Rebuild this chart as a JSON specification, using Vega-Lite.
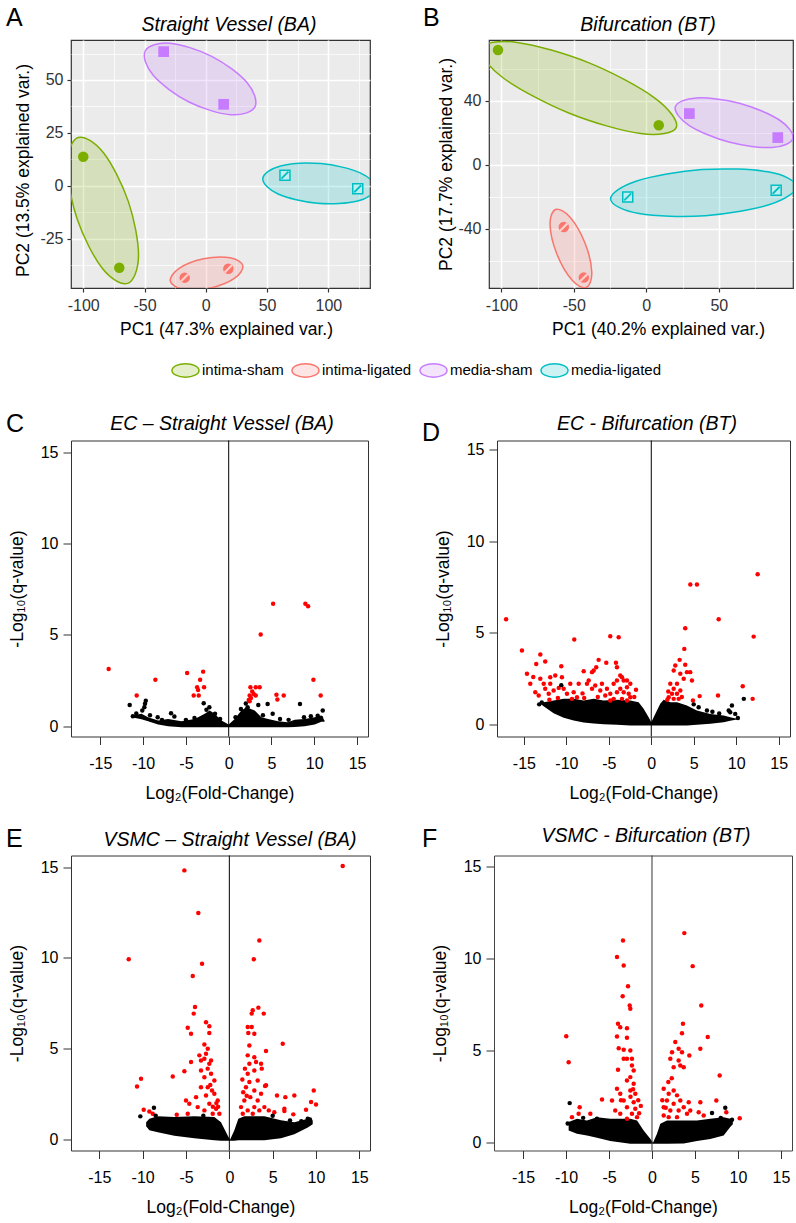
{
"$schema": "https://vega.github.io/schema/vega-lite/v6.json",
"padding": {"left": 5, "top": 5, "right": 0, "bottom": 0},
"background": "white",
"config": {
  "font": "Liberation Sans",
  "locale": {"number": {"decimal": ".", "thousands": ",", "grouping": [3], "currency": ["$", ""], "minus": "-"}},
  "axis": {"labelFont": "Liberation Sans", "titleFont": "Liberation Sans", "titleFontWeight": "normal", "labelFlush": false, "labelOverlap": false, "titleColor": "black", "labelColor": "black"},
  "legend": {"labelFont": "Liberation Sans"},
  "text": {"font": "Liberation Sans"}
},
"datasets": {
  "ellA": [
    {"grp":"intima-sham","i":0,"PC1":-63.8,"PC2":-46.1},{"grp":"intima-sham","i":1,"PC1":-84.5,"PC2":-39.0},{"grp":"intima-sham","i":2,"PC1":-104.9,"PC2":-15.8},{"grp":"intima-sham","i":3,"PC1":-113.1,"PC2":9.8},{"grp":"intima-sham","i":4,"PC1":-104.2,"PC2":22.8},{"grp":"intima-sham","i":5,"PC1":-83.5,"PC2":15.6},{"grp":"intima-sham","i":6,"PC1":-63.1,"PC2":-7.6},{"grp":"intima-sham","i":7,"PC1":-54.9,"PC2":-33.1},
    {"grp":"media-sham","i":0,"PC1":40.1,"PC2":37.3},{"grp":"media-sham","i":1,"PC1":20.2,"PC2":33.6},{"grp":"media-sham","i":2,"PC1":-14.1,"PC2":39.7},{"grp":"media-sham","i":3,"PC1":-42.9,"PC2":52.2},{"grp":"media-sham","i":4,"PC1":-49.4,"PC2":63.7},{"grp":"media-sham","i":5,"PC1":-29.6,"PC2":67.4},{"grp":"media-sham","i":6,"PC1":4.8,"PC2":61.2},{"grp":"media-sham","i":7,"PC1":33.6,"PC2":48.8},
    {"grp":"intima-ligated","i":0,"PC1":30.2,"PC2":-37.8},{"grp":"intima-ligated","i":1,"PC1":23.3,"PC2":-43.8},{"grp":"intima-ligated","i":2,"PC1":3.2,"PC2":-48.4},{"grp":"intima-ligated","i":3,"PC1":-18.4,"PC2":-48.9},{"grp":"intima-ligated","i":4,"PC1":-28.9,"PC2":-45.1},{"grp":"intima-ligated","i":5,"PC1":-22.0,"PC2":-39.1},{"grp":"intima-ligated","i":6,"PC1":-1.9,"PC2":-34.5},{"grp":"intima-ligated","i":7,"PC1":19.8,"PC2":-34.0},
    {"grp":"media-ligated","i":0,"PC1":138.4,"PC2":-1.2},{"grp":"media-ligated","i":1,"PC1":124.0,"PC2":-7.2},{"grp":"media-ligated","i":2,"PC1":91.1,"PC2":-8.3},{"grp":"media-ligated","i":3,"PC1":59.0,"PC2":-3.9},{"grp":"media-ligated","i":4,"PC1":46.5,"PC2":3.4},{"grp":"media-ligated","i":5,"PC1":61.0,"PC2":9.4},{"grp":"media-ligated","i":6,"PC1":93.9,"PC2":10.5},{"grp":"media-ligated","i":7,"PC1":126.0,"PC2":6.1}
  ],
  "ellB": [
    {"grp":"intima-sham","i":0,"PC1":20.7,"PC2":23.5},{"grp":"intima-sham","i":1,"PC1":-3.9,"PC2":19.6},{"grp":"intima-sham","i":2,"PC1":-53.5,"PC2":32.5},{"grp":"intima-sham","i":3,"PC1":-98.9,"PC2":54.5},{"grp":"intima-sham","i":4,"PC1":-113.7,"PC2":72.8},{"grp":"intima-sham","i":5,"PC1":-89.1,"PC2":76.6},{"grp":"intima-sham","i":6,"PC1":-39.5,"PC2":63.8},{"grp":"intima-sham","i":7,"PC1":5.9,"PC2":41.8},
    {"grp":"media-sham","i":0,"PC1":101.1,"PC2":16.6},{"grp":"media-sham","i":1,"PC1":86.7,"PC2":10.9},{"grp":"media-sham","i":2,"PC1":57.0,"PC2":14.3},{"grp":"media-sham","i":3,"PC1":29.4,"PC2":24.8},{"grp":"media-sham","i":4,"PC1":20.0,"PC2":36.3},{"grp":"media-sham","i":5,"PC1":34.5,"PC2":41.9},{"grp":"media-sham","i":6,"PC1":64.2,"PC2":38.6},{"grp":"media-sham","i":7,"PC1":91.8,"PC2":28.1},
    {"grp":"media-ligated","i":0,"PC1":103.6,"PC2":-13.3},{"grp":"media-ligated","i":1,"PC1":85.6,"PC2":-24.6},{"grp":"media-ligated","i":2,"PC1":40.6,"PC2":-31.7},{"grp":"media-ligated","i":3,"PC1":-5.0,"PC2":-30.4},{"grp":"media-ligated","i":4,"PC1":-24.6,"PC2":-21.4},{"grp":"media-ligated","i":5,"PC1":-6.6,"PC2":-10.0},{"grp":"media-ligated","i":6,"PC1":38.4,"PC2":-2.9},{"grp":"media-ligated","i":7,"PC1":84.0,"PC2":-4.3},
    {"grp":"intima-ligated","i":0,"PC1":-41.4,"PC2":-76.6},{"grp":"intima-ligated","i":1,"PC1":-51.3,"PC2":-71.9},{"grp":"intima-ligated","i":2,"PC1":-61.7,"PC2":-55.6},{"grp":"intima-ligated","i":3,"PC1":-66.4,"PC2":-37.4},{"grp":"intima-ligated","i":4,"PC1":-62.6,"PC2":-27.8},{"grp":"intima-ligated","i":5,"PC1":-52.7,"PC2":-32.5},{"grp":"intima-ligated","i":6,"PC1":-42.3,"PC2":-48.8},{"grp":"intima-ligated","i":7,"PC1":-37.6,"PC2":-67.0}
  ],
  "ptsA": [
    {"grp":"intima-sham","PC1":-100.0,"PC2":13.75},{"grp":"intima-sham","PC1":-70.6,"PC2":-38.7},
    {"grp":"media-sham","PC1":-34.4,"PC2":63.4},{"grp":"media-sham","PC1":14.6,"PC2":38.5},
    {"grp":"intima-ligated","PC1":-17.2,"PC2":-43.4},{"grp":"intima-ligated","PC1":18.4,"PC2":-39.2},
    {"grp":"media-ligated","PC1":64.6,"PC2":5.0},{"grp":"media-ligated","PC1":124.0,"PC2":-1.4}
  ],
  "ptsB": [
    {"grp":"intima-sham","PC1":-102.3,"PC2":71.9},{"grp":"intima-sham","PC1":8.6,"PC2":24.8},
    {"grp":"media-sham","PC1":29.7,"PC2":32.1},{"grp":"media-sham","PC1":90.7,"PC2":17.1},
    {"grp":"media-ligated","PC1":-12.8,"PC2":-20.0},{"grp":"media-ligated","PC1":89.6,"PC2":-15.8},
    {"grp":"intima-ligated","PC1":-56.9,"PC2":-38.8},{"grp":"intima-ligated","PC1":-43.1,"PC2":-70.4}
  ],
  "envC": [
    {"x":-11.2,"hi":0.6,"lo":0.48},{"x":-10.2,"hi":0.68,"lo":0.38},{"x":-9.42,"hi":0.5,"lo":0.28},{"x":-8.25,"hi":0.32,"lo":0.1},{"x":-7.08,"hi":0.4,"lo":0.0},{"x":-5.53,"hi":0.27,"lo":-0.05},{"x":-3.97,"hi":0.4,"lo":-0.05},{"x":-2.8,"hi":0.68,"lo":-0.05},{"x":-2.22,"hi":0.86,"lo":-0.05},{"x":-1.64,"hi":0.68,"lo":-0.05},{"x":-0.85,"hi":0.31,"lo":-0.05},{"x":0,"hi":0.09,"lo":-0.05},{"x":0.7,"hi":0.4,"lo":-0.05},{"x":1.48,"hi":0.86,"lo":-0.05},{"x":2.07,"hi":1.04,"lo":-0.05},{"x":3.04,"hi":0.86,"lo":-0.05},{"x":3.82,"hi":0.49,"lo":-0.05},{"x":4.6,"hi":0.4,"lo":-0.05},{"x":5.77,"hi":0.27,"lo":-0.05},{"x":6.94,"hi":0.22,"lo":-0.05},{"x":7.71,"hi":0.35,"lo":-0.04},{"x":8.88,"hi":0.4,"lo":0.0},{"x":10.05,"hi":0.49,"lo":0.1},{"x":10.83,"hi":0.59,"lo":0.25},{"x":11.2,"hi":0.31,"lo":0.25}
  ],
  "ptsC": [
    {"x":5.19,"y":6.7,"s":"up"},{"x":8.96,"y":6.7,"s":"up"},{"x":9.28,"y":6.57,"s":"up"},{"x":3.74,"y":5.02,"s":"up"},{"x":-14.03,"y":3.14,"s":"up"},{"x":-4.86,"y":2.92,"s":"up"},{"x":-2.99,"y":2.99,"s":"up"},{"x":-8.57,"y":2.54,"s":"up"},{"x":-3.34,"y":2.54,"s":"up"},{"x":-3.69,"y":2.13,"s":"up"},{"x":-3.58,"y":1.99,"s":"up"},{"x":-2.88,"y":2.13,"s":"up"},{"x":-4.09,"y":1.68,"s":"up"},{"x":-3.5,"y":1.68,"s":"up"},{"x":-10.75,"y":1.68,"s":"up"},{"x":2.54,"y":2.13,"s":"up"},{"x":3.16,"y":2.13,"s":"up"},{"x":3.62,"y":2.13,"s":"up"},{"x":2.45,"y":1.68,"s":"up"},{"x":2.92,"y":1.77,"s":"up"},{"x":3.16,"y":1.68,"s":"up"},{"x":2.34,"y":1.44,"s":"up"},{"x":2.45,"y":1.37,"s":"up"},{"x":5.58,"y":1.72,"s":"up"},{"x":5.69,"y":1.46,"s":"up"},{"x":6.43,"y":1.68,"s":"up"},{"x":9.9,"y":2.54,"s":"up"},{"x":10.75,"y":1.68,"s":"up"},{"x":2.75,"y":1.9,"s":"up"},{"x":2.6,"y":1.55,"s":"up"},
    {"x":-11.57,"y":1.17,"s":"ns"},{"x":-9.78,"y":1.23,"s":"ns"},{"x":-9.86,"y":1.04,"s":"ns"},{"x":-10.1,"y":0.86,"s":"ns"},{"x":-9.69,"y":1.4,"s":"ns"},{"x":-2.92,"y":1.26,"s":"ns"},{"x":-2.26,"y":1.04,"s":"ns"},{"x":-2.6,"y":0.9,"s":"ns"},{"x":3.46,"y":1.17,"s":"ns"},{"x":4.55,"y":1.22,"s":"ns"},{"x":8.33,"y":1.22,"s":"ns"},{"x":10.99,"y":0.86,"s":"ns"},{"x":5.14,"y":0.68,"s":"ns"},{"x":-6.74,"y":0.71,"s":"ns"},{"x":-6.35,"y":0.53,"s":"ns"},{"x":-8.3,"y":0.49,"s":"ns"},{"x":10.8,"y":0.45,"s":"ns"},{"x":10.4,"y":0.58,"s":"ns"},{"x":1.43,"y":0.95,"s":"ns"},{"x":2.21,"y":1.04,"s":"ns"},{"x":2.0,"y":1.25,"s":"ns"},{"x":-1.6,"y":0.68,"s":"ns"},{"x":-10.8,"y":0.7,"s":"ns"},{"x":-11.2,"y":0.55,"s":"ns"},{"x":7.0,"y":0.35,"s":"ns"},{"x":8.8,"y":0.5,"s":"ns"},{"x":9.6,"y":0.55,"s":"ns"},{"x":-5.0,"y":0.35,"s":"ns"},{"x":-4.0,"y":0.45,"s":"ns"},{"x":-7.8,"y":0.35,"s":"ns"},{"x":4.0,"y":0.6,"s":"ns"},{"x":6.0,"y":0.4,"s":"ns"},{"x":-1.0,"y":0.4,"s":"ns"},{"x":0.8,"y":0.5,"s":"ns"},{"x":-9.2,"y":0.6,"s":"ns"}
  ],
  "envD": [
    {"x":-12.9,"hi":1.18,"lo":1.08},{"x":-12.68,"hi":1.22,"lo":1.0},{"x":-11.5,"hi":1.31,"lo":0.62},{"x":-10.32,"hi":1.4,"lo":0.37},{"x":-9.14,"hi":1.4,"lo":0.22},{"x":-7.96,"hi":1.31,"lo":0.11},{"x":-6.78,"hi":1.4,"lo":0.05},{"x":-5.61,"hi":1.31,"lo":0.02},{"x":-4.04,"hi":1.35,"lo":-0.02},{"x":-2.47,"hi":1.31,"lo":-0.05},{"x":-1.49,"hi":1.22,"lo":-0.05},{"x":-0.9,"hi":0.86,"lo":-0.05},{"x":-0.31,"hi":0.4,"lo":-0.05},{"x":0,"hi":0.13,"lo":-0.05},{"x":0.47,"hi":0.58,"lo":-0.05},{"x":1.06,"hi":1.13,"lo":-0.05},{"x":1.46,"hi":1.35,"lo":-0.05},{"x":2.24,"hi":1.22,"lo":-0.05},{"x":3.03,"hi":1.22,"lo":-0.05},{"x":4.2,"hi":1.04,"lo":-0.05},{"x":5.38,"hi":0.76,"lo":-0.02},{"x":6.95,"hi":0.58,"lo":0.04},{"x":8.53,"hi":0.49,"lo":0.13},{"x":9.3,"hi":0.4,"lo":0.2},{"x":10.09,"hi":0.31,"lo":0.28}
  ],
  "ptsD": [
    {"x":-17.1,"y":5.75,"s":"up"},{"x":4.6,"y":7.65,"s":"up"},{"x":5.38,"y":7.65,"s":"up"},{"x":12.53,"y":8.21,"s":"up"},{"x":7.94,"y":5.75,"s":"up"},{"x":4.0,"y":5.26,"s":"up"},{"x":-15.23,"y":4.04,"s":"up"},{"x":-13.07,"y":3.82,"s":"up"},{"x":-9.07,"y":4.64,"s":"up"},{"x":-4.83,"y":4.82,"s":"up"},{"x":-3.84,"y":4.77,"s":"up"},{"x":12.06,"y":4.8,"s":"up"},{"x":3.89,"y":4.13,"s":"up"},{"x":3.34,"y":3.53,"s":"up"},{"x":4.0,"y":3.26,"s":"up"},{"x":-13.55,"y":3.31,"s":"up"},{"x":-12.49,"y":3.44,"s":"up"},{"x":-10.6,"y":3.18,"s":"up"},{"x":-6.2,"y":3.53,"s":"up"},{"x":-5.3,"y":3.37,"s":"up"},{"x":-4.16,"y":3.37,"s":"up"},{"x":-4.04,"y":3.13,"s":"up"},{"x":-6.48,"y":3.13,"s":"up"},{"x":-6.78,"y":2.95,"s":"up"},{"x":-7.96,"y":2.91,"s":"up"},{"x":-6.98,"y":2.86,"s":"up"},{"x":-3.65,"y":2.68,"s":"up"},{"x":-3.45,"y":2.58,"s":"up"},{"x":-14.64,"y":2.77,"s":"up"},{"x":-13.07,"y":2.5,"s":"up"},{"x":-11.9,"y":2.58,"s":"up"},{"x":-11.31,"y":2.68,"s":"up"},{"x":-10.52,"y":2.58,"s":"up"},{"x":-9.54,"y":2.22,"s":"up"},{"x":-12.67,"y":2.22,"s":"up"},{"x":-11.9,"y":2.22,"s":"up"},{"x":-12.49,"y":1.95,"s":"up"},{"x":-11.5,"y":1.86,"s":"up"},{"x":-12.08,"y":1.68,"s":"up"},{"x":-14.25,"y":2.22,"s":"up"},{"x":-13.66,"y":1.76,"s":"up"},{"x":-13.26,"y":1.58,"s":"up"},{"x":-10.32,"y":1.95,"s":"up"},{"x":-9.93,"y":1.68,"s":"up"},{"x":-9.14,"y":1.76,"s":"up"},{"x":-8.55,"y":2.22,"s":"up"},{"x":-8.75,"y":1.49,"s":"up"},{"x":-9.34,"y":1.4,"s":"up"},{"x":-7.37,"y":2.4,"s":"up"},{"x":-7.57,"y":2.22,"s":"up"},{"x":-6.98,"y":1.95,"s":"up"},{"x":-6.6,"y":2.13,"s":"up"},{"x":-5.81,"y":2.22,"s":"up"},{"x":-6.01,"y":1.86,"s":"up"},{"x":-5.22,"y":1.95,"s":"up"},{"x":-4.83,"y":1.68,"s":"up"},{"x":-5.42,"y":1.58,"s":"up"},{"x":-4.43,"y":2.22,"s":"up"},{"x":-4.04,"y":2.4,"s":"up"},{"x":-3.25,"y":2.4,"s":"up"},{"x":-2.86,"y":2.4,"s":"up"},{"x":-2.47,"y":2.22,"s":"up"},{"x":-2.86,"y":2.04,"s":"up"},{"x":-3.65,"y":1.95,"s":"up"},{"x":-3.25,"y":1.76,"s":"up"},{"x":-2.66,"y":1.68,"s":"up"},{"x":-4.04,"y":1.76,"s":"up"},{"x":-2.47,"y":1.49,"s":"up"},{"x":-3.45,"y":1.4,"s":"up"},{"x":-4.43,"y":1.4,"s":"up"},{"x":-4.83,"y":1.31,"s":"up"},{"x":-2.86,"y":1.31,"s":"up"},{"x":2.64,"y":2.95,"s":"up"},{"x":2.83,"y":3.22,"s":"up"},{"x":3.42,"y":2.77,"s":"up"},{"x":3.82,"y":2.5,"s":"up"},{"x":4.2,"y":2.86,"s":"up"},{"x":4.59,"y":2.86,"s":"up"},{"x":4.79,"y":2.4,"s":"up"},{"x":3.03,"y":2.22,"s":"up"},{"x":2.24,"y":2.22,"s":"up"},{"x":2.64,"y":1.95,"s":"up"},{"x":2.44,"y":1.68,"s":"up"},{"x":3.03,"y":1.68,"s":"up"},{"x":3.42,"y":1.86,"s":"up"},{"x":2.05,"y":1.49,"s":"up"},{"x":2.64,"y":1.4,"s":"up"},{"x":3.23,"y":1.4,"s":"up"},{"x":4.91,"y":1.31,"s":"up"},{"x":5.7,"y":1.55,"s":"up"},{"x":7.86,"y":1.58,"s":"up"},{"x":10.77,"y":2.09,"s":"up"},{"x":11.94,"y":1.4,"s":"up"},{"x":-7.9,"y":1.45,"s":"up"},{"x":-6.3,"y":1.5,"s":"up"},{"x":-11.0,"y":1.45,"s":"up"},{"x":-12.0,"y":1.35,"s":"up"},{"x":-2.0,"y":1.5,"s":"up"},{"x":-1.8,"y":1.9,"s":"up"},{"x":2.0,"y":1.8,"s":"up"},{"x":1.9,"y":1.35,"s":"up"},{"x":3.6,"y":1.5,"s":"up"},{"x":-13.9,"y":2.6,"s":"up"},{"x":-10.9,"y":2.0,"s":"up"},{"x":-8.1,"y":1.7,"s":"up"},
    {"x":-10.6,"y":2.15,"s":"ns"},{"x":10.9,"y":1.4,"s":"ns"},{"x":5.58,"y":0.94,"s":"ns"},{"x":6.56,"y":0.76,"s":"ns"},{"x":9.12,"y":0.76,"s":"ns"},{"x":9.5,"y":1.04,"s":"ns"},{"x":9.89,"y":0.58,"s":"ns"},{"x":9.3,"y":0.67,"s":"ns"},{"x":5.0,"y":1.1,"s":"ns"},{"x":-12.9,"y":1.2,"s":"ns"},{"x":-13.2,"y":1.1,"s":"ns"},{"x":8.0,"y":0.6,"s":"ns"},{"x":7.2,"y":0.7,"s":"ns"},{"x":10.2,"y":0.35,"s":"ns"}
  ],
  "envE": [
    {"x":-9.6,"hi":0.95,"lo":0.72},{"x":-9.23,"hi":1.14,"lo":0.5},{"x":-8.26,"hi":1.27,"lo":0.39},{"x":-6.35,"hi":1.23,"lo":0.2},{"x":-4.04,"hi":1.27,"lo":0.07},{"x":-1.73,"hi":1.23,"lo":-0.04},{"x":-0.96,"hi":0.95,"lo":-0.07},{"x":-0.19,"hi":0.22,"lo":-0.07},{"x":0.08,"hi":-0.02,"lo":-0.07},{"x":0.58,"hi":0.5,"lo":-0.07},{"x":1.04,"hi":1.14,"lo":-0.05},{"x":1.73,"hi":1.27,"lo":-0.04},{"x":4.04,"hi":1.27,"lo":-0.04},{"x":5.96,"hi":1.05,"lo":0.07},{"x":7.5,"hi":0.95,"lo":0.29},{"x":9.05,"hi":1.14,"lo":0.66},{"x":9.62,"hi":1.05,"lo":0.84}
  ],
  "ptsE": [
    {"x":-5.19,"y":14.82,"s":"up"},{"x":13.08,"y":15.06,"s":"up"},{"x":-3.58,"y":12.47,"s":"up"},{"x":-11.61,"y":9.92,"s":"up"},{"x":-3.15,"y":9.68,"s":"up"},{"x":-4.22,"y":9.0,"s":"up"},{"x":3.46,"y":10.96,"s":"up"},{"x":2.82,"y":9.92,"s":"up"},{"x":-3.96,"y":7.29,"s":"up"},{"x":-4.11,"y":6.93,"s":"up"},{"x":3.35,"y":7.26,"s":"up"},{"x":2.7,"y":7.11,"s":"up"},{"x":2.58,"y":6.93,"s":"up"},{"x":3.97,"y":6.93,"s":"up"},{"x":-4.8,"y":6.15,"s":"up"},{"x":-4.42,"y":5.82,"s":"up"},{"x":-2.69,"y":6.46,"s":"up"},{"x":-2.31,"y":6.23,"s":"up"},{"x":-2.31,"y":5.86,"s":"up"},{"x":2.12,"y":6.19,"s":"up"},{"x":2.58,"y":6.19,"s":"up"},{"x":2.19,"y":5.86,"s":"up"},{"x":2.88,"y":5.82,"s":"up"},{"x":6.16,"y":5.27,"s":"up"},{"x":2.31,"y":5.18,"s":"up"},{"x":-2.88,"y":5.23,"s":"up"},{"x":-2.49,"y":5.0,"s":"up"},{"x":-2.69,"y":4.72,"s":"up"},{"x":-3.46,"y":4.63,"s":"up"},{"x":-3.27,"y":4.35,"s":"up"},{"x":-2.88,"y":4.45,"s":"up"},{"x":-2.31,"y":4.17,"s":"up"},{"x":-2.11,"y":4.35,"s":"up"},{"x":-4.42,"y":4.26,"s":"up"},{"x":-5.19,"y":3.76,"s":"up"},{"x":-6.53,"y":3.47,"s":"up"},{"x":-10.19,"y":3.34,"s":"up"},{"x":-10.65,"y":2.92,"s":"up"},{"x":-9.88,"y":1.64,"s":"up"},{"x":-9.23,"y":1.54,"s":"up"},{"x":-8.84,"y":1.42,"s":"up"},{"x":-5.0,"y":2.15,"s":"up"},{"x":-4.62,"y":1.97,"s":"up"},{"x":-4.8,"y":1.42,"s":"up"},{"x":-3.84,"y":2.33,"s":"up"},{"x":-3.65,"y":1.78,"s":"up"},{"x":-6.07,"y":1.36,"s":"up"},{"x":-3.27,"y":3.8,"s":"up"},{"x":-2.88,"y":3.43,"s":"up"},{"x":-2.11,"y":3.62,"s":"up"},{"x":-1.73,"y":3.25,"s":"up"},{"x":-2.49,"y":2.88,"s":"up"},{"x":-3.27,"y":2.88,"s":"up"},{"x":-1.73,"y":2.52,"s":"up"},{"x":-2.69,"y":2.42,"s":"up"},{"x":-1.34,"y":2.15,"s":"up"},{"x":-2.31,"y":1.97,"s":"up"},{"x":-1.53,"y":1.69,"s":"up"},{"x":-2.88,"y":1.6,"s":"up"},{"x":-1.92,"y":1.42,"s":"up"},{"x":-1.15,"y":1.42,"s":"up"},{"x":2.12,"y":4.63,"s":"up"},{"x":2.88,"y":4.53,"s":"up"},{"x":2.31,"y":4.17,"s":"up"},{"x":3.08,"y":4.26,"s":"up"},{"x":2.12,"y":3.62,"s":"up"},{"x":2.88,"y":3.8,"s":"up"},{"x":3.27,"y":3.25,"s":"up"},{"x":2.31,"y":3.16,"s":"up"},{"x":1.92,"y":2.88,"s":"up"},{"x":2.88,"y":2.7,"s":"up"},{"x":3.66,"y":4.17,"s":"up"},{"x":3.74,"y":3.9,"s":"up"},{"x":4.23,"y":2.98,"s":"up"},{"x":2.42,"y":2.33,"s":"up"},{"x":3.27,"y":2.15,"s":"up"},{"x":1.73,"y":2.15,"s":"up"},{"x":1.35,"y":1.78,"s":"up"},{"x":2.12,"y":1.6,"s":"up"},{"x":2.88,"y":1.78,"s":"up"},{"x":3.46,"y":1.6,"s":"up"},{"x":1.55,"y":1.42,"s":"up"},{"x":2.7,"y":1.42,"s":"up"},{"x":4.04,"y":1.78,"s":"up"},{"x":4.23,"y":4.87,"s":"up"},{"x":4.12,"y":2.94,"s":"up"},{"x":3.66,"y":2.52,"s":"up"},{"x":5.5,"y":2.42,"s":"up"},{"x":6.46,"y":2.33,"s":"up"},{"x":7.5,"y":2.42,"s":"up"},{"x":4.55,"y":1.6,"s":"up"},{"x":5.19,"y":1.5,"s":"up"},{"x":6.35,"y":1.69,"s":"up"},{"x":6.35,"y":1.56,"s":"up"},{"x":7.38,"y":1.38,"s":"up"},{"x":8.85,"y":1.64,"s":"up"},{"x":9.74,"y":2.7,"s":"up"},{"x":9.43,"y":2.06,"s":"up"},{"x":10.0,"y":1.93,"s":"up"},{"x":-1.5,"y":2.0,"s":"up"},{"x":-2.0,"y":2.7,"s":"up"},{"x":-1.9,"y":1.8,"s":"up"},{"x":1.6,"y":2.6,"s":"up"},{"x":2.0,"y":2.4,"s":"up"},{"x":1.5,"y":3.3,"s":"up"},{"x":-1.3,"y":1.8,"s":"up"},{"x":-2.2,"y":3.0,"s":"up"},{"x":1.8,"y":3.9,"s":"up"},{"x":-2.5,"y":3.9,"s":"up"},
    {"x":-10.27,"y":1.27,"s":"ns"},{"x":-8.7,"y":1.75,"s":"ns"},{"x":9.05,"y":1.14,"s":"ns"},{"x":8.3,"y":1.0,"s":"ns"},{"x":9.3,"y":1.1,"s":"ns"},{"x":-8.5,"y":1.3,"s":"ns"},{"x":5.0,"y":1.3,"s":"ns"},{"x":-3.0,"y":1.3,"s":"ns"},{"x":7.0,"y":1.05,"s":"ns"}
  ],
  "envF": [
    {"x":-9.69,"hi":1.12,"lo":0.67},{"x":-8.72,"hi":1.3,"lo":0.49},{"x":-7.56,"hi":1.21,"lo":0.4},{"x":-6.4,"hi":1.39,"lo":0.27},{"x":-4.85,"hi":1.3,"lo":0.1},{"x":-2.52,"hi":1.3,"lo":-0.06},{"x":-1.74,"hi":1.21,"lo":-0.06},{"x":-0.97,"hi":0.67,"lo":-0.06},{"x":-0.2,"hi":0.22,"lo":-0.06},{"x":0.12,"hi":0.0,"lo":-0.06},{"x":0.58,"hi":0.49,"lo":-0.06},{"x":0.97,"hi":1.03,"lo":-0.06},{"x":1.74,"hi":1.21,"lo":-0.06},{"x":3.69,"hi":1.21,"lo":-0.04},{"x":5.23,"hi":1.21,"lo":0.09},{"x":6.78,"hi":1.3,"lo":0.2},{"x":8.33,"hi":1.39,"lo":0.4},{"x":9.1,"hi":1.3,"lo":0.85},{"x":9.4,"hi":1.15,"lo":1.0}
  ],
  "ptsF": [
    {"x":3.76,"y":11.37,"s":"up"},{"x":-3.37,"y":10.97,"s":"up"},{"x":-4.07,"y":10.07,"s":"up"},{"x":-3.29,"y":9.61,"s":"up"},{"x":4.73,"y":9.58,"s":"up"},{"x":-2.79,"y":8.49,"s":"up"},{"x":-3.41,"y":7.95,"s":"up"},{"x":-2.59,"y":7.45,"s":"up"},{"x":-2.52,"y":7.27,"s":"up"},{"x":5.73,"y":7.45,"s":"up"},{"x":-3.95,"y":6.45,"s":"up"},{"x":-3.69,"y":6.27,"s":"up"},{"x":-2.91,"y":6.21,"s":"up"},{"x":3.6,"y":6.45,"s":"up"},{"x":3.49,"y":5.94,"s":"up"},{"x":-4.07,"y":5.76,"s":"up"},{"x":-2.91,"y":5.69,"s":"up"},{"x":6.48,"y":5.73,"s":"up"},{"x":-9.97,"y":5.78,"s":"up"},{"x":-9.69,"y":4.37,"s":"up"},{"x":-3.87,"y":5.13,"s":"up"},{"x":-3.29,"y":5.04,"s":"up"},{"x":-2.52,"y":5.0,"s":"up"},{"x":-2.91,"y":4.56,"s":"up"},{"x":-2.33,"y":4.56,"s":"up"},{"x":-3.29,"y":4.56,"s":"up"},{"x":5.62,"y":5.1,"s":"up"},{"x":4.34,"y":4.73,"s":"up"},{"x":2.71,"y":5.46,"s":"up"},{"x":3.1,"y":5.1,"s":"up"},{"x":3.49,"y":4.91,"s":"up"},{"x":2.33,"y":4.91,"s":"up"},{"x":2.13,"y":4.56,"s":"up"},{"x":3.1,"y":4.46,"s":"up"},{"x":2.52,"y":4.1,"s":"up"},{"x":3.29,"y":4.19,"s":"up"},{"x":3.69,"y":4.1,"s":"up"},{"x":-3.95,"y":3.96,"s":"up"},{"x":-2.33,"y":4.19,"s":"up"},{"x":-2.13,"y":3.92,"s":"up"},{"x":-2.52,"y":3.56,"s":"up"},{"x":-2.13,"y":3.2,"s":"up"},{"x":-2.91,"y":3.38,"s":"up"},{"x":7.87,"y":3.65,"s":"up"},{"x":-4.07,"y":2.93,"s":"up"},{"x":-3.69,"y":2.66,"s":"up"},{"x":-2.52,"y":2.84,"s":"up"},{"x":-1.94,"y":2.66,"s":"up"},{"x":-3.29,"y":2.29,"s":"up"},{"x":-2.13,"y":2.2,"s":"up"},{"x":-2.91,"y":1.93,"s":"up"},{"x":-1.94,"y":1.84,"s":"up"},{"x":-2.33,"y":1.57,"s":"up"},{"x":-1.74,"y":1.39,"s":"up"},{"x":-3.69,"y":1.57,"s":"up"},{"x":-2.91,"y":1.3,"s":"up"},{"x":-4.27,"y":1.75,"s":"up"},{"x":-5.81,"y":2.35,"s":"up"},{"x":-4.65,"y":2.29,"s":"up"},{"x":-8.41,"y":1.93,"s":"up"},{"x":-8.53,"y":1.57,"s":"up"},{"x":-7.17,"y":1.57,"s":"up"},{"x":-9.3,"y":1.39,"s":"up"},{"x":1.36,"y":2.93,"s":"up"},{"x":1.94,"y":2.66,"s":"up"},{"x":2.52,"y":2.84,"s":"up"},{"x":2.91,"y":2.57,"s":"up"},{"x":1.74,"y":2.29,"s":"up"},{"x":2.52,"y":2.12,"s":"up"},{"x":3.29,"y":2.29,"s":"up"},{"x":1.36,"y":1.93,"s":"up"},{"x":2.13,"y":1.75,"s":"up"},{"x":3.1,"y":1.75,"s":"up"},{"x":3.69,"y":1.93,"s":"up"},{"x":1.36,"y":1.48,"s":"up"},{"x":1.94,"y":1.39,"s":"up"},{"x":2.91,"y":1.39,"s":"up"},{"x":4.07,"y":1.57,"s":"up"},{"x":4.27,"y":2.2,"s":"up"},{"x":4.45,"y":1.75,"s":"up"},{"x":5.43,"y":1.66,"s":"up"},{"x":6.01,"y":1.48,"s":"up"},{"x":5.62,"y":2.2,"s":"up"},{"x":7.48,"y":2.29,"s":"up"},{"x":8.64,"y":1.66,"s":"up"},{"x":10.2,"y":1.33,"s":"up"},{"x":-1.5,"y":1.6,"s":"up"},{"x":-1.3,"y":2.0,"s":"up"},{"x":-2.5,"y":2.5,"s":"up"},{"x":1.2,"y":2.3,"s":"up"},{"x":1.6,"y":1.9,"s":"up"},{"x":2.3,"y":3.5,"s":"up"},{"x":1.9,"y":3.3,"s":"up"},{"x":-2.2,"y":2.9,"s":"up"},{"x":-1.6,"y":2.3,"s":"up"},{"x":-3.6,"y":2.3,"s":"up"},
    {"x":-9.57,"y":2.15,"s":"ns"},{"x":6.98,"y":1.61,"s":"ns"},{"x":8.52,"y":1.9,"s":"ns"},{"x":-6.4,"y":1.3,"s":"ns"},{"x":9.3,"y":1.25,"s":"ns"},{"x":-9.8,"y":1.05,"s":"ns"},{"x":-8.0,"y":1.35,"s":"ns"},{"x":8.0,"y":1.35,"s":"ns"},{"x":7.5,"y":1.15,"s":"ns"}
  ]
},
"spacing": 29.5,
"vconcat": [
  {
    "hconcat": [
      {
        "width": 299, "height": 248,
        "view": {"fill": "#EBEBEB", "stroke": "#333333", "strokeWidth": 1.2},
        "layer": [
          {
            "data": {"name": "ellA"},
            "mark": {"type": "line", "interpolate": "cardinal-closed", "clip": true, "strokeWidth": 1.5, "fillOpacity": 0.2},
            "encoding": {
              "x": {"field": "PC1", "type": "quantitative", "scale": {"domain": [-110, 134], "nice": false, "zero": false},
                "axis": {"orient": "bottom", "title": "PC1 (47.3% explained var.)", "values": [-100,-50,0,50,100], "grid": true, "gridColor": "white", "gridWidth": 1.6, "domain": false, "tickSize": 4, "tickColor": "#333333", "tickWidth": 1.2, "labelFontSize": 16, "labelColor": "#333333", "labelPadding": 5, "titleFontSize": 17.5, "titlePadding": 7, "titleX": 155}},
              "y": {"field": "PC2", "type": "quantitative", "scale": {"domain": [-48.3, 68.9], "nice": false, "zero": false},
                "axis": {"orient": "left", "title": "PC2 (13.5% explained var.)", "values": [-25,0,25,50], "grid": true, "gridColor": "white", "gridWidth": 1.6, "domain": false, "tickSize": 4, "tickColor": "#333333", "tickWidth": 1.2, "labelFontSize": 16, "labelColor": "#333333", "labelPadding": 4, "titleFontSize": 17.5, "titlePadding": 7, "titleY": 130}},
              "order": {"field": "i", "type": "quantitative"},
              "stroke": {"field": "grp", "type": "nominal", "scale": {"domain": ["intima-sham","intima-ligated","media-sham","media-ligated"], "range": ["#7CAE00","#F8766D","#C77CFF","#00BFC4"]},
                "legend": {"orient": "none", "legendX": 100, "legendY": 315.5, "direction": "horizontal", "columns": 4, "title": null, "symbolType": "M -1,0 A 1,0.5 0 1,1 1,0 A 1,0.5 0 1,1 -1,0 Z", "symbolSize": 729, "symbolStrokeWidth": 1.5, "labelFontSize": 15, "labelColor": "black", "labelOffset": 2, "columnPadding": 5, "padding": 0, "encode": {"symbols": {"update": {"fillOpacity": {"value": 0.2}}}}}},
              "fill": {"field": "grp", "type": "nominal", "scale": {"domain": ["intima-sham","intima-ligated","media-sham","media-ligated"], "range": ["#7CAE00","#F8766D","#C77CFF","#00BFC4"]},
                "legend": {"orient": "none", "legendX": 100, "legendY": 315.5, "direction": "horizontal", "columns": 4, "title": null, "symbolType": "M -1,0 A 1,0.5 0 1,1 1,0 A 1,0.5 0 1,1 -1,0 Z", "symbolSize": 729, "symbolStrokeWidth": 1.5, "labelFontSize": 15, "labelColor": "black", "labelOffset": 2, "columnPadding": 5, "padding": 0, "encode": {"symbols": {"update": {"fillOpacity": {"value": 0.2}}}}}}
            }
          },
          {
            "data": {"name": "ptsA"},
            "transform": [{"filter": {"field": "grp", "oneOf": ["intima-sham", "intima-ligated"]}}],
            "mark": {"type": "point", "shape": "circle", "filled": true, "size": 110, "opacity": 1},
            "encoding": {
              "x": {"field": "PC1", "type": "quantitative", "axis": {"orient": "top", "values": [-75,-25,25,75,125], "grid": true, "gridColor": "white", "gridWidth": 0.7, "labels": false, "ticks": false, "domain": false, "title": null}},
              "y": {"field": "PC2", "type": "quantitative", "axis": {"orient": "right", "values": [-37.5,-12.5,12.5,37.5,62.5], "grid": true, "gridColor": "white", "gridWidth": 0.7, "labels": false, "ticks": false, "domain": false, "title": null}},
              "fill": {"field": "grp", "type": "nominal", "legend": null}}
          },
          {
            "data": {"name": "ptsA"},
            "transform": [{"filter": {"field": "grp", "equal": "media-sham"}}],
            "mark": {"type": "point", "shape": "square", "filled": true, "size": 115, "opacity": 1},
            "encoding": {"x": {"field": "PC1", "type": "quantitative", "axis": null}, "y": {"field": "PC2", "type": "quantitative", "axis": null}, "fill": {"field": "grp", "type": "nominal", "legend": null}}
          },
          {
            "data": {"name": "ptsA"},
            "transform": [{"filter": {"field": "grp", "equal": "media-ligated"}}],
            "mark": {"type": "point", "shape": "square", "filled": true, "size": 100, "opacity": 1, "fill": "#bfeff0", "stroke": "#00BFC4", "strokeWidth": 1.5},
            "encoding": {"x": {"field": "PC1", "type": "quantitative", "axis": null}, "y": {"field": "PC2", "type": "quantitative", "axis": null}}
          },
          {
            "data": {"name": "ptsA"},
            "transform": [{"filter": {"field": "grp", "equal": "media-ligated"}}],
            "mark": {"type": "point", "shape": "M -0.7,0.7 L 0.7,-0.7", "filled": false, "size": 100, "opacity": 1, "stroke": "#00BFC4", "strokeWidth": 1.8},
            "encoding": {"x": {"field": "PC1", "type": "quantitative", "axis": null}, "y": {"field": "PC2", "type": "quantitative", "axis": null}}
          },
          {
            "data": {"name": "ptsA"},
            "transform": [{"filter": {"field": "grp", "equal": "intima-ligated"}}],
            "mark": {"type": "point", "shape": "M -0.7,0.7 L 0.7,-0.7", "filled": false, "size": 110, "opacity": 1, "stroke": "#ffcfca", "strokeWidth": 2.2},
            "encoding": {"x": {"field": "PC1", "type": "quantitative", "axis": null}, "y": {"field": "PC2", "type": "quantitative", "axis": null}}
          },
          {
            "data": {"values": [{"t": "A"}]},
            "mark": {"type": "text", "fontSize": 25, "align": "left", "baseline": "alphabetic", "color": "black"},
            "encoding": {"x": {"datum": -163, "axis": null}, "y": {"datum": 75.5, "axis": null}, "text": {"field": "t"}}
          },
          {
            "data": {"values": [{"t": "Straight Vessel (BA)"}]},
            "mark": {"type": "text", "fontSize": 19.5, "fontStyle": "italic", "align": "center", "baseline": "alphabetic", "color": "black"},
            "encoding": {"x": {"datum": 18.9, "axis": null}, "y": {"datum": 73.15, "axis": null}, "text": {"field": "t"}}
          }
        ]
      },
      {
        "width": 304, "height": 248,
        "view": {"fill": "#EBEBEB", "stroke": "#333333", "strokeWidth": 1.2},
        "layer": [
          {
            "data": {"name": "ellB"},
            "mark": {"type": "line", "interpolate": "cardinal-closed", "clip": true, "strokeWidth": 1.5, "fillOpacity": 0.2},
            "encoding": {
              "x": {"field": "PC1", "type": "quantitative", "scale": {"domain": [-108.5, 101.2], "nice": false, "zero": false},
                "axis": {"orient": "bottom", "title": "PC1 (40.2% explained var.)", "values": [-100,-50,0,50], "grid": true, "gridColor": "white", "gridWidth": 1.6, "domain": false, "tickSize": 4, "tickColor": "#333333", "tickWidth": 1.2, "labelFontSize": 16, "labelColor": "#333333", "labelPadding": 5, "titleFontSize": 17.5, "titlePadding": 7, "titleX": 169}},
              "y": {"field": "PC2", "type": "quantitative", "scale": {"domain": [-76.9, 78.1], "nice": false, "zero": false},
                "axis": {"orient": "left", "title": "PC2 (17.7% explained var.)", "values": [-40,0,40], "grid": true, "gridColor": "white", "gridWidth": 1.6, "domain": false, "tickSize": 4, "tickColor": "#333333", "tickWidth": 1.2, "labelFontSize": 16, "labelColor": "#333333", "labelPadding": 4, "titleFontSize": 17.5, "titlePadding": 2}},
              "order": {"field": "i", "type": "quantitative"},
              "stroke": {"field": "grp", "type": "nominal", "scale": {"domain": ["intima-sham","intima-ligated","media-sham","media-ligated"], "range": ["#7CAE00","#F8766D","#C77CFF","#00BFC4"]}, "legend": null},
              "fill": {"field": "grp", "type": "nominal", "scale": {"domain": ["intima-sham","intima-ligated","media-sham","media-ligated"], "range": ["#7CAE00","#F8766D","#C77CFF","#00BFC4"]}, "legend": null}
            }
          },
          {
            "data": {"name": "ptsB"},
            "transform": [{"filter": {"field": "grp", "oneOf": ["intima-sham", "intima-ligated"]}}],
            "mark": {"type": "point", "shape": "circle", "filled": true, "size": 110, "opacity": 1},
            "encoding": {
              "x": {"field": "PC1", "type": "quantitative", "axis": {"orient": "top", "values": [-75,-25,25,75], "grid": true, "gridColor": "white", "gridWidth": 0.7, "labels": false, "ticks": false, "domain": false, "title": null}},
              "y": {"field": "PC2", "type": "quantitative", "axis": {"orient": "right", "values": [-60,-20,20,60], "grid": true, "gridColor": "white", "gridWidth": 0.7, "labels": false, "ticks": false, "domain": false, "title": null}},
              "fill": {"field": "grp", "type": "nominal", "legend": null}}
          },
          {
            "data": {"name": "ptsB"},
            "transform": [{"filter": {"field": "grp", "equal": "media-sham"}}],
            "mark": {"type": "point", "shape": "square", "filled": true, "size": 115, "opacity": 1},
            "encoding": {"x": {"field": "PC1", "type": "quantitative", "axis": null}, "y": {"field": "PC2", "type": "quantitative", "axis": null}, "fill": {"field": "grp", "type": "nominal", "legend": null}}
          },
          {
            "data": {"name": "ptsB"},
            "transform": [{"filter": {"field": "grp", "equal": "media-ligated"}}],
            "mark": {"type": "point", "shape": "square", "filled": true, "size": 100, "opacity": 1, "fill": "#bfeff0", "stroke": "#00BFC4", "strokeWidth": 1.5},
            "encoding": {"x": {"field": "PC1", "type": "quantitative", "axis": null}, "y": {"field": "PC2", "type": "quantitative", "axis": null}}
          },
          {
            "data": {"name": "ptsB"},
            "transform": [{"filter": {"field": "grp", "equal": "media-ligated"}}],
            "mark": {"type": "point", "shape": "M -0.7,0.7 L 0.7,-0.7", "filled": false, "size": 100, "opacity": 1, "stroke": "#00BFC4", "strokeWidth": 1.8},
            "encoding": {"x": {"field": "PC1", "type": "quantitative", "axis": null}, "y": {"field": "PC2", "type": "quantitative", "axis": null}}
          },
          {
            "data": {"name": "ptsB"},
            "transform": [{"filter": {"field": "grp", "equal": "intima-ligated"}}],
            "mark": {"type": "point", "shape": "M -0.7,0.7 L 0.7,-0.7", "filled": false, "size": 110, "opacity": 1, "stroke": "#ffcfca", "strokeWidth": 2.2},
            "encoding": {"x": {"field": "PC1", "type": "quantitative", "axis": null}, "y": {"field": "PC2", "type": "quantitative", "axis": null}}
          },
          {
            "data": {"values": [{"t": "B"}]},
            "mark": {"type": "text", "fontSize": 25, "align": "left", "baseline": "alphabetic", "color": "black"},
            "encoding": {"x": {"datum": -154, "axis": null}, "y": {"datum": 86.85, "axis": null}, "text": {"field": "t"}}
          },
          {
            "data": {"values": [{"t": "Bifurcation (BT)"}]},
            "mark": {"type": "text", "fontSize": 19.5, "fontStyle": "italic", "align": "center", "baseline": "alphabetic", "color": "black"},
            "encoding": {"x": {"datum": 1.2, "axis": null}, "y": {"datum": 83.7, "axis": null}, "text": {"field": "t"}}
          }
        ]
      }
    ],
    "spacing": 119,
    "bounds": "flush",
    "resolve": {"scale": {"fill": "independent", "stroke": "independent"}}
  },
  {
    "vconcat": [
      {
        "hconcat": [
          {
            "width": 297, "height": 296,
            "view": {"fill": "white", "stroke": "#333333", "strokeWidth": 1},
            "layer": [
              {
                "data": {"name": "envC"},
                "mark": {"type": "area", "color": "black", "opacity": 1},
                "encoding": {
                  "x": {"field": "x", "type": "quantitative", "scale": {"domain": [-18.43, 16.28], "nice": false, "zero": false},
                    "axis": {"title": "Log₂(Fold-Change)", "values": [-15,-10,-5,0,5,10,15], "grid": false, "domain": false, "tickSize": 8, "tickColor": "#333333", "labelFontSize": 16, "labelPadding": 11, "titleFontSize": 17.5, "titlePadding": 13}},
                  "y": {"field": "hi", "type": "quantitative", "scale": {"domain": [-0.56, 15.64], "nice": false, "zero": false},
                    "axis": {"title": "-Log₁₀(q-value)", "values": [0,5,10,15], "grid": false, "domain": false, "tickSize": 8, "tickColor": "#333333", "labelFontSize": 16, "labelPadding": 5, "titleFontSize": 17.5, "titlePadding": 14}},
                  "y2": {"field": "lo"}
                }
              },
              {"data": {"values": [{"x": 0}]}, "mark": {"type": "rule", "color": "black", "strokeWidth": 1}, "encoding": {"x": {"field": "x", "type": "quantitative"}}},
              {
                "data": {"name": "ptsC"},
                "mark": {"type": "circle", "size": 20, "opacity": 1},
                "encoding": {"x": {"field": "x", "type": "quantitative"}, "y": {"field": "y", "type": "quantitative"}, "color": {"field": "s", "type": "nominal", "scale": {"domain": ["up","ns"], "range": ["#FF0000","#000000"]}, "legend": null}}
              },
              {
                "data": {"values": [{"t": "C"}]},
                "mark": {"type": "text", "fontSize": 25, "align": "left", "baseline": "alphabetic", "color": "black"},
                "encoding": {"x": {"datum": -26.03}, "y": {"datum": 16.09}, "text": {"field": "t"}}
              },
              {
                "data": {"values": [{"t": "EC – Straight Vessel (BA)"}]},
                "mark": {"type": "text", "fontSize": 19.5, "fontStyle": "italic", "align": "center", "baseline": "alphabetic", "color": "black"},
                "encoding": {"x": {"datum": -0.78}, "y": {"datum": 16.19}, "text": {"field": "t"}}
              }
            ]
          },
          {
            "width": 293, "height": 296,
            "view": {"fill": "white", "stroke": "#333333", "strokeWidth": 1},
            "layer": [
              {
                "data": {"name": "envD"},
                "mark": {"type": "area", "color": "black", "opacity": 1},
                "encoding": {
                  "x": {"field": "x", "type": "quantitative", "scale": {"domain": [-18.17, 16.34], "nice": false, "zero": false},
                    "axis": {"title": "Log₂(Fold-Change)", "values": [-15,-10,-5,0,5,10,15], "grid": false, "domain": false, "tickSize": 8, "tickColor": "#333333", "labelFontSize": 16, "labelPadding": 11, "titleFontSize": 17.5, "titlePadding": 13}},
                  "y": {"field": "hi", "type": "quantitative", "scale": {"domain": [-0.655, 15.51], "nice": false, "zero": false},
                    "axis": {"title": "-Log₁₀(q-value)", "values": [0,5,10,15], "grid": false, "domain": false, "tickSize": 8, "tickColor": "#333333", "labelFontSize": 16, "labelPadding": 5, "titleFontSize": 17.5, "titlePadding": 14}},
                  "y2": {"field": "lo"}
                }
              },
              {"data": {"values": [{"x": 0}]}, "mark": {"type": "rule", "color": "black", "strokeWidth": 1}, "encoding": {"x": {"field": "x", "type": "quantitative"}}},
              {
                "data": {"name": "ptsD"},
                "mark": {"type": "circle", "size": 20, "opacity": 1},
                "encoding": {"x": {"field": "x", "type": "quantitative"}, "y": {"field": "y", "type": "quantitative"}, "color": {"field": "s", "type": "nominal", "scale": {"domain": ["up","ns"], "range": ["#FF0000","#000000"]}, "legend": null}}
              },
              {
                "data": {"values": [{"t": "D"}]},
                "mark": {"type": "text", "fontSize": 25, "align": "left", "baseline": "alphabetic", "color": "black"},
                "encoding": {"x": {"datum": -27.0}, "y": {"datum": 15.51}, "text": {"field": "t"}}
              },
              {
                "data": {"values": [{"t": "EC - Bifurcation (BT)"}]},
                "mark": {"type": "text", "fontSize": 19.5, "fontStyle": "italic", "align": "center", "baseline": "alphabetic", "color": "black"},
                "encoding": {"x": {"datum": -0.51}, "y": {"datum": 16.09}, "text": {"field": "t"}}
              }
            ]
          }
        ],
        "spacing": 129,
        "bounds": "flush"
      },
      {
        "hconcat": [
          {
            "width": 299, "height": 295,
            "view": {"fill": "white", "stroke": "#333333", "strokeWidth": 1},
            "layer": [
              {
                "data": {"name": "envE"},
                "mark": {"type": "area", "color": "black", "opacity": 1},
                "encoding": {
                  "x": {"field": "x", "type": "quantitative", "scale": {"domain": [-18.27, 16.23], "nice": false, "zero": false},
                    "axis": {"title": "Log₂(Fold-Change)", "values": [-15,-10,-5,0,5,10,15], "grid": false, "domain": false, "tickSize": 8, "tickColor": "#333333", "labelFontSize": 16, "labelPadding": 11, "titleFontSize": 17.5, "titlePadding": 13}},
                  "y": {"field": "hi", "type": "quantitative", "scale": {"domain": [-0.61, 15.64], "nice": false, "zero": false},
                    "axis": {"title": "-Log₁₀(q-value)", "values": [0,5,10,15], "grid": false, "domain": false, "tickSize": 8, "tickColor": "#333333", "labelFontSize": 16, "labelPadding": 5, "titleFontSize": 17.5, "titlePadding": 14}},
                  "y2": {"field": "lo"}
                }
              },
              {"data": {"values": [{"x": 0}]}, "mark": {"type": "rule", "color": "black", "strokeWidth": 1}, "encoding": {"x": {"field": "x", "type": "quantitative"}}},
              {
                "data": {"name": "ptsE"},
                "mark": {"type": "circle", "size": 20, "opacity": 1},
                "encoding": {"x": {"field": "x", "type": "quantitative"}, "y": {"field": "y", "type": "quantitative"}, "color": {"field": "s", "type": "nominal", "scale": {"domain": ["up","ns"], "range": ["#FF0000","#000000"]}, "legend": null}}
              },
              {
                "data": {"values": [{"t": "E"}]},
                "mark": {"type": "text", "fontSize": 25, "align": "left", "baseline": "alphabetic", "color": "black"},
                "encoding": {"x": {"datum": -25.76}, "y": {"datum": 16.1}, "text": {"field": "t"}}
              },
              {
                "data": {"values": [{"t": "VSMC – Straight Vessel (BA)"}]},
                "mark": {"type": "text", "fontSize": 19.5, "fontStyle": "italic", "align": "center", "baseline": "alphabetic", "color": "black"},
                "encoding": {"x": {"datum": 0.08}, "y": {"datum": 16.19}, "text": {"field": "t"}}
              }
            ]
          },
          {
            "width": 298, "height": 295,
            "view": {"fill": "white", "stroke": "#444444", "strokeWidth": 1},
            "layer": [
              {
                "data": {"name": "envF"},
                "mark": {"type": "area", "color": "black", "opacity": 1},
                "encoding": {
                  "x": {"field": "x", "type": "quantitative", "scale": {"domain": [-18.37, 16.28], "nice": false, "zero": false},
                    "axis": {"title": "Log₂(Fold-Change)", "values": [-15,-10,-5,0,5,10,15], "grid": false, "domain": false, "tickSize": 8, "tickColor": "#333333", "labelFontSize": 16, "labelPadding": 11, "titleFontSize": 17.5, "titlePadding": 13}},
                  "y": {"field": "hi", "type": "quantitative", "scale": {"domain": [-0.42, 15.58], "nice": false, "zero": false},
                    "axis": {"title": "-Log₁₀(q-value)", "values": [0,5,10,15], "grid": false, "domain": false, "tickSize": 8, "tickColor": "#333333", "labelFontSize": 16, "labelPadding": 5, "titleFontSize": 17.5, "titlePadding": 14}},
                  "y2": {"field": "lo"}
                }
              },
              {"data": {"values": [{"x": 0}]}, "mark": {"type": "rule", "color": "#333333", "strokeWidth": 1}, "encoding": {"x": {"field": "x", "type": "quantitative"}}},
              {
                "data": {"name": "ptsF"},
                "mark": {"type": "circle", "size": 20, "opacity": 1},
                "encoding": {"x": {"field": "x", "type": "quantitative"}, "y": {"field": "y", "type": "quantitative"}, "color": {"field": "s", "type": "nominal", "scale": {"domain": ["up","ns"], "range": ["#FF0000","#000000"]}, "legend": null}}
              },
              {
                "data": {"values": [{"t": "F"}]},
                "mark": {"type": "text", "fontSize": 25, "align": "left", "baseline": "alphabetic", "color": "black"},
                "encoding": {"x": {"datum": -26.74}, "y": {"datum": 16.03}, "text": {"field": "t"}}
              },
              {
                "data": {"values": [{"t": "VSMC - Bifurcation (BT)"}]},
                "mark": {"type": "text", "fontSize": 19.5, "fontStyle": "italic", "align": "center", "baseline": "alphabetic", "color": "black"},
                "encoding": {"x": {"datum": -0.7}, "y": {"datum": 16.3}, "text": {"field": "t"}}
              }
            ]
          }
        ],
        "spacing": 124,
        "bounds": "flush"
      }
    ],
    "spacing": 23
  }
]
}
